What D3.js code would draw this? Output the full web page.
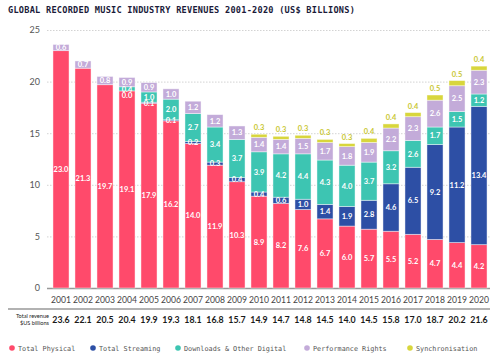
<!DOCTYPE html>
<html><head><meta charset="utf-8">
<script src="https://cdn.jsdelivr.net/npm/d3@7"></script>
<style>body{margin:0;background:#fff}svg{display:block}</style>
</head><body>
<svg id="c" width="500" height="359"></svg>
<script>
const years = ["2001","2002","2003","2004","2005","2006","2007","2008","2009","2010","2011","2012","2013","2014","2015","2016","2017","2018","2019","2020"];
const physical = [23.0,21.3,19.7,19.1,17.9,16.2,14.0,11.9,10.3,8.9,8.2,7.6,6.7,6.0,5.7,5.5,5.2,4.7,4.4,4.2];
const streaming = [null,null,null,0.0,0.1,0.1,0.2,0.3,0.4,0.4,0.6,1.0,1.4,1.9,2.8,4.6,6.5,9.2,11.2,13.4];
const downloads = [null,null,null,0.4,1.0,2.0,2.7,3.4,3.7,3.9,4.2,4.4,4.3,4.0,3.7,3.2,2.6,1.7,1.5,1.2];
const performance = [0.6,0.7,0.8,0.9,0.9,1.0,1.2,1.2,1.3,1.4,1.4,1.5,1.7,1.8,1.9,2.2,2.3,2.6,2.5,2.3];
const sync = [null,null,null,null,null,null,null,null,null,0.3,0.3,0.3,0.3,0.3,0.4,0.4,0.4,0.5,0.5,0.4];
const totals = ["23.6","22.1","20.5","20.4","19.9","19.3","18.1","16.8","15.7","14.9","14.7","14.8","14.5","14.0","14.5","15.8","17.0","18.7","20.2","21.6"];
const yTicks = [0,5,10,15,20,25];
const seriesNames = ["Total Physical","Total Streaming","Downloads & Other Digital","Performance Rights","Synchronisation"];
const seriesColors = ["#ff4a6b","#2d4fa5","#3dc5b2","#c3abd9","#d8d63c"];

const svg = d3.select("#c");
const x = d3.scaleBand().domain(years).range([50,490]).paddingInner(0.27).paddingOuter(0.135);
const y = d3.scaleLinear().domain([0,25]).range([288,30]);
const mono = "'DejaVu Sans Mono', monospace";
const sans = "Lato, 'Open Sans', sans-serif";

// title
svg.append("text").attr("x",8).attr("y",12.5).attr("font-family",mono).attr("font-weight","bold")
  .attr("font-size",8.6).attr("fill","#1b1b3a").attr("letter-spacing",0.25)
  .text("GLOBAL RECORDED MUSIC INDUSTRY REVENUES 2001-2020 (US$ BILLIONS)");

// gridlines
const yAxis = d3.axisLeft(y).tickValues(yTicks).tickSize(-443).tickPadding(7);
const gy = svg.append("g").attr("transform","translate(47,0)").call(yAxis);
gy.select(".domain").remove();
gy.selectAll(".tick line").attr("stroke","#c8c8c8").attr("stroke-dasharray","1.5,1.5").attr("stroke-width",0.8);
gy.selectAll(".tick text").attr("font-family",sans).attr("font-size",9).attr("fill","#555");
gy.selectAll(".tick").filter(d=>d===0).select("line").attr("stroke","#999").attr("stroke-dasharray",null).attr("stroke-width",1.4);

// stacks
const series = [physical,streaming,downloads,performance,sync];
const g = svg.append("g");
years.forEach((yr,i)=>{
  let base = 0;
  series.forEach((s,k)=>{
    const v = s[i];
    if (v===null) return;
    const y0 = base, y1 = base+v;
    base = y1;
    const h = y(y0)-y(y1);
    g.append("rect").attr("x",x(yr)).attr("width",x.bandwidth())
      .attr("y",y(y1)).attr("height",Math.max(h,0))
      .attr("fill",seriesColors[k]).attr("stroke","rgba(255,255,255,0.55)").attr("stroke-width",0.8);
  });
});
// labels
years.forEach((yr,i)=>{
  let base = 0;
  const cx = x(yr)+x.bandwidth()/2;
  const inner = [];
  series.forEach((s,k)=>{
    const v = s[i];
    if (v===null) return;
    const y0 = base, y1 = base+v;
    base = y1;
    if (k===4) {
      g.append("text").attr("x",cx).attr("y",y(y1)-4).attr("text-anchor","middle")
        .attr("font-family",sans).attr("font-weight","bold").attr("font-size",7.5)
        .attr("fill","#c9c733").text(v.toFixed(1));
    } else {
      inner.push({v, py:(y(y0)+y(y1))/2});
    }
  });
  // from top down, keep min spacing
  inner.reverse();
  for (let j=1;j<inner.length;j++){
    if (inner[j].py < inner[j-1].py + 6.5) inner[j].py = inner[j-1].py + 6.5;
  }
  inner.forEach(o=>{
    g.append("text").attr("x",cx).attr("y",o.py).attr("dy","0.36em").attr("text-anchor","middle")
      .attr("font-family",sans).attr("font-weight","bold").attr("font-size",7.5)
      .attr("fill","#fff").text(o.v.toFixed(1));
  });
});

// x axis year labels
const xAxis = d3.axisBottom(x).tickSize(0).tickPadding(9);
const gx = svg.append("g").attr("transform","translate(0,288)").call(xAxis);
gx.select(".domain").remove();
gx.selectAll(".tick text").attr("font-family",sans).attr("font-size",8.6).attr("fill","#444");

// separator
svg.append("line").attr("x1",8).attr("x2",490).attr("y1",309).attr("y2",309).attr("stroke","#999").attr("stroke-width",1.3);

// totals row
svg.append("text").attr("x",49).attr("y",318).attr("text-anchor","end").attr("font-family",sans)
  .attr("font-size",5.6).attr("fill","#222").text("Total revenue");
svg.append("text").attr("x",49).attr("y",325).attr("text-anchor","end").attr("font-family",sans)
  .attr("font-size",5.6).attr("fill","#222").text("$US billions");
svg.selectAll(".tot").data(years).enter().append("text").attr("class","tot")
  .attr("x",d=>x(d)+x.bandwidth()/2).attr("y",323).attr("text-anchor","middle")
  .attr("font-family",sans).attr("font-weight","bold").attr("font-size",8.8).attr("fill","#1a1a1a")
  .text((d,i)=>totals[i]);

// legend
const legX = [12,93,178,307,410];
const lg = svg.append("g");
seriesNames.forEach((n,k)=>{
  lg.append("circle").attr("cx",legX[k]).attr("cy",348).attr("r",2.8).attr("fill",seriesColors[k]);
  lg.append("text").attr("x",legX[k]+6).attr("y",350.5).attr("font-family",mono).attr("font-size",6.8)
    .attr("fill","#555").text(n);
});
</script>
</body></html>
